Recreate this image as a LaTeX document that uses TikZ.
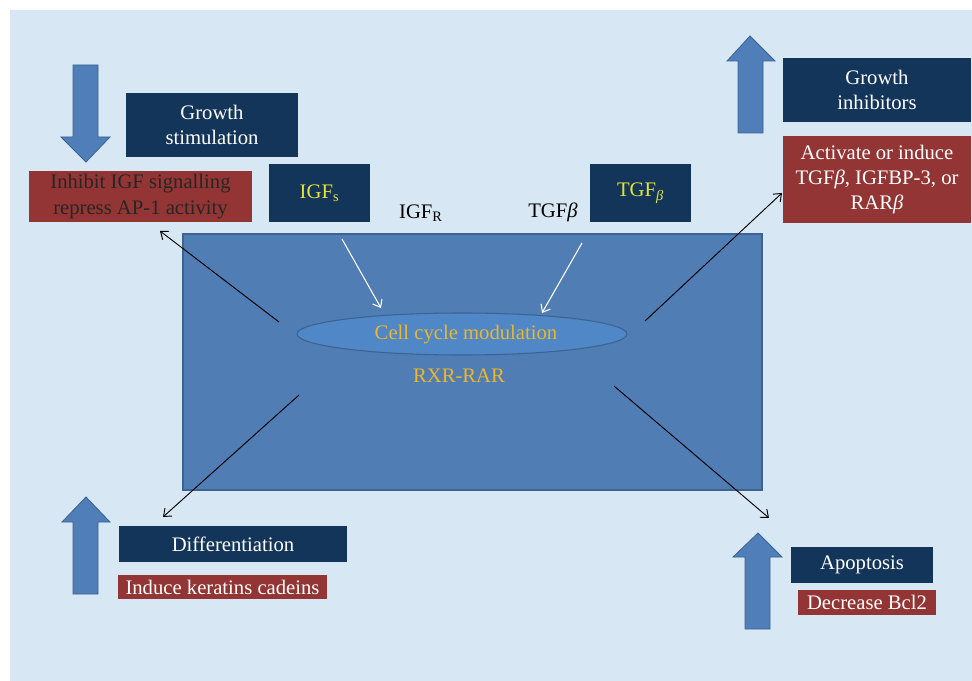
\documentclass[tikz,border=0pt]{standalone}
\usepackage{fontspec}
\setmainfont{Liberation Serif}
\usetikzlibrary{arrows.meta,shapes.geometric}
\definecolor{bgblue}{HTML}{D7E7F4}
\definecolor{navy}{HTML}{133559}
\definecolor{boxred}{HTML}{923534}
\definecolor{cellblue}{HTML}{4F7DB4}
\definecolor{cellborder}{HTML}{3C6391}
\definecolor{ellblue}{HTML}{5087C6}
\definecolor{arrowblue}{HTML}{4F7EB9}
\definecolor{gold}{HTML}{EDB62C}
\definecolor{lemon}{HTML}{E6E23C}
\tikzset{
  txt/.style={font=\fontsize{15.5}{19}\selectfont, align=center},
  navybox/.style={fill=navy, draw=none, inner sep=0pt, txt, text=white},
  redbox/.style={fill=boxred, draw=none, inner sep=0pt, txt, text=white},
  sz/.style 2 args={minimum width=#1, minimum height=#2},
  blockarrow/.style={fill=arrowblue, draw=cellborder, line width=0.6pt},
  conn/.style={draw=black, line width=0.7pt, -{Straight Barb[length=5pt,width=8pt]}},
  wconn/.style={draw=white, line width=0.8pt, -{Straight Barb[length=5pt,width=8pt]}},
}
\begin{document}
\begin{tikzpicture}[x=0.75pt,y=-0.75pt]
\useasboundingbox (0,0) rectangle (972,681);
% background
\fill[bgblue] (10,10) rectangle (972,681);
% main cell rectangle
\draw[fill=cellblue, draw=cellborder, line width=0.8pt] (183,234) rectangle (762,490);
\node[ellipse, fill=ellblue, draw=cellborder, line width=0.8pt, minimum width=247.5pt, minimum height=31.5pt, inner sep=0pt] (cell) at (462,334) {};
\node[txt, text=gold] (cellt) at (466,335) {Cell cycle modulation};
\node[txt, text=gold] (rxr) at (459,376) {RXR-RAR};
% block arrows
\draw[blockarrow] (73,65) -- (98,65) -- (98,137) -- (110,137) -- (86,162) -- (61,137) -- (73,137) -- cycle;
\draw[blockarrow] (738,133) -- (763,133) -- (763,61) -- (775,61) -- (750,36) -- (727,61) -- (738,61) -- cycle;
\draw[blockarrow] (73,594) -- (98,594) -- (98,522) -- (110,522) -- (86,497) -- (62,522) -- (73,522) -- cycle;
\draw[blockarrow] (745,629) -- (770,629) -- (770,557) -- (782,557) -- (758,533) -- (733,557) -- (745,557) -- cycle;
% boxes
\node[navybox, sz={129pt}{48pt}] (gs) at (212,125) {Growth\\stimulation};
\node[redbox, text=black!85, sz={167.25pt}{38.25pt}] (inh) at (140.5,196.5) {Inhibit IGF signalling\\repress AP-1 activity};
\node[navybox, text=lemon, sz={75.75pt}{43.5pt}] (igfs) at (319.5,193) {IGF\textsubscript{s}};
\node[navybox, text=lemon, sz={75.75pt}{43.5pt}] (tgfb) at (640.5,193) {TGF\textsubscript{\textit{β}}};
\node[navybox, sz={141pt}{48pt}] (gi) at (877,90) {Growth\\inhibitors};
\node[redbox, sz={141pt}{65.25pt}] (act) at (877,179.5) {Activate or induce\\TGF\textit{β}, IGFBP-3, or\\RAR\textit{β}};
\node[navybox, sz={171pt}{27pt}] (diff) at (233,544) {Differentiation};
\node[redbox, sz={156.75pt}{18pt}] (ind) at (222.5,587) {Induce keratins cadeins};
\node[navybox, sz={106.5pt}{27pt}] (apop) at (862,565) {Apoptosis};
\node[redbox, sz={103.5pt}{18.75pt}] (bcl) at (867,602.5) {Decrease Bcl2};
% labels
\node[txt, text=black] (igfr) at (421,213) {IGF\textsubscript{R}};
\node[txt, text=black] (tgfl) at (553,212) {TGF\textit{β}};
% connector end points
\coordinate (w1s) at (342,239);
\coordinate (w1e) at (381,308);
\coordinate (w2s) at (582,243);
\coordinate (w2e) at (542,313);
\coordinate (c1s) at (279,322);
\coordinate (c1e) at (160,231);
\coordinate (c2s) at (645,321);
\coordinate (c2e) at (782,193);
\coordinate (c3s) at (299,395);
\coordinate (c3e) at (163,517);
\coordinate (c4s) at (614,386);
\coordinate (c4e) at (769,518);
\draw[wconn] (w1s) -- (w1e);
\draw[wconn] (w2s) -- (w2e);
\draw[conn] (c1s) -- (c1e);
\draw[conn] (c2s) -- (c2e);
\draw[conn] (c3s) -- (c3e);
\draw[conn] (c4s) -- (c4e);
\end{tikzpicture}
\end{document}
